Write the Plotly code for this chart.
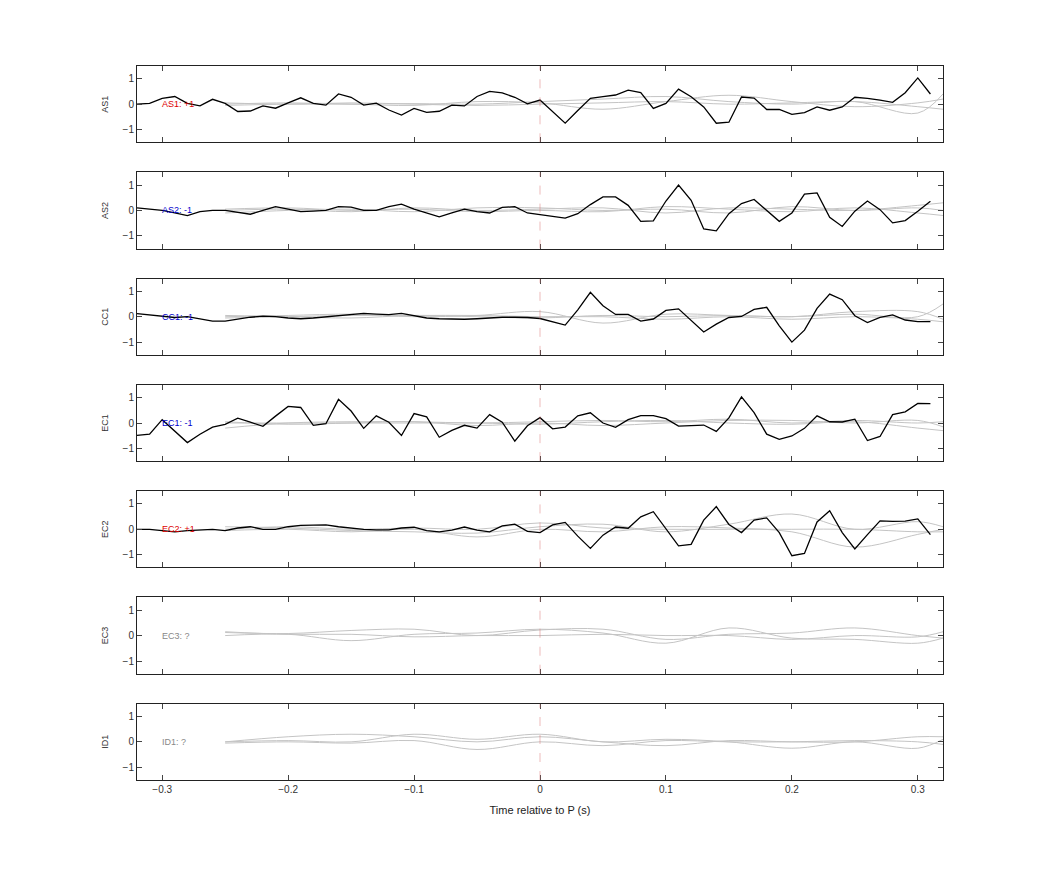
import numpy as np
import plotly.graph_objects as go
from plotly.subplots import make_subplots

stations = ["AS1", "AS2", "CC1", "EC1", "EC2", "EC3", "ID1"]
labels = ["AS1: +1", "AS2: -1", "CC1: -1", "EC1: -1", "EC2: +1", "EC3: ?", "ID1: ?"]
label_colors = ["#dd0000", "#0000cc", "#0000cc", "#0000cc", "#dd0000", "#888888", "#888888"]

t_black = [round(-0.32 + 0.01 * i, 2) for i in range(64)]

as1 = [0, 0.03, 0.23, 0.3, 0.03, -0.07, 0.19, 0.03, -0.29, -0.27, -0.07, -0.16, 0.05, 0.25, 0.03, -0.04,
       0.4, 0.27, -0.04, 0.04, -0.23, -0.43, -0.17, -0.32, -0.28, -0.04, -0.07, 0.3, 0.5, 0.44, 0.27, 0.01,
       0.16, -0.3, -0.75, -0.25, 0.23, 0.3, 0.36, 0.55, 0.45, -0.17, 0.03, 0.59, 0.29, -0.11, -0.75, -0.71,
       0.28, 0.24, -0.21, -0.21, -0.4, -0.33, -0.11, -0.24, -0.11, 0.27, 0.23, 0.16, 0.07, 0.45, 1.03, 0.4]
as2 = [0.1, 0.05, 0.0, -0.1, -0.2, -0.05, 0.0, 0.0, -0.08, -0.15, 0.0, 0.15, 0.05, -0.05, -0.03, 0.0,
       0.15, 0.13, 0.0, 0.0, 0.15, 0.25, 0.05, -0.1, -0.25, -0.1, 0.05, -0.05, -0.1, 0.12, 0.15, -0.1,
       -0.17, -0.23, -0.3, -0.13, 0.23, 0.53, 0.53, 0.2, -0.43, -0.41, 0.37, 1.0, 0.4, -0.73, -0.8, -0.13,
       0.27, 0.43, 0.0, -0.43, -0.1, 0.64, 0.69, -0.27, -0.63, -0.03, 0.37, 0.03, -0.49, -0.4, -0.03, 0.36]
cc1 = [0.12, 0.07, 0.0, -0.03, 0.0, -0.1, -0.17, -0.17, -0.1, -0.02, 0.02, 0.0, -0.05, -0.08, -0.05, 0.0,
       0.03, 0.1, 0.13, 0.1, 0.08, 0.13, 0.05, -0.05, -0.08, -0.1, -0.1, -0.08, -0.05, -0.02, -0.02, -0.03,
       -0.07, -0.2, -0.33, 0.27, 0.96, 0.43, 0.09, 0.09, -0.17, -0.09, 0.25, 0.31, -0.13, -0.6, -0.29, -0.03,
       0.01, 0.29, 0.37, -0.36, -1.0, -0.53, 0.33, 0.89, 0.67, 0.04, -0.23, -0.03, 0.07, -0.13, -0.19, -0.19]
ec1 = [-0.49, -0.44, 0.13, -0.33, -0.77, -0.44, -0.16, -0.05, 0.19, 0.03, -0.13, 0.27, 0.65, 0.61, -0.09, -0.03,
       0.93, 0.47, -0.21, 0.28, 0.03, -0.49, 0.37, 0.24, -0.56, -0.29, -0.09, -0.2, 0.33, 0.03, -0.71, -0.11,
       0.21, -0.23, -0.16, 0.28, 0.4, 0.0, -0.17, 0.13, 0.29, 0.29, 0.17, -0.12, -0.11, -0.08, -0.33, 0.2,
       1.03, 0.41, -0.44, -0.64, -0.51, -0.21, 0.28, 0.05, 0.04, 0.15, -0.69, -0.53, 0.33, 0.44, 0.77, 0.76]
ec2 = [0.0, 0.0, -0.05, -0.1, -0.05, -0.02, 0.0, -0.05, 0.05, 0.1, 0.0, 0.0, 0.1, 0.15, 0.17, 0.17,
       0.1, 0.05, 0.0, -0.02, -0.02, 0.05, 0.08, -0.05, -0.1, -0.03, 0.09, -0.03, -0.1, 0.13, 0.2, -0.08,
       -0.13, 0.17, 0.27, -0.27, -0.75, -0.23, 0.09, 0.04, 0.49, 0.69, 0.03, -0.65, -0.59, 0.36, 0.89, 0.19,
       -0.13, 0.36, 0.45, -0.13, -1.04, -0.95, 0.29, 0.73, -0.13, -0.77, -0.21, 0.33, 0.31, 0.32, 0.41, -0.21]
black_series = [as1, as2, cc1, ec1, ec2, None, None]

t_gray = [-0.25, -0.20, -0.15, -0.10, -0.05, 0.00, 0.05, 0.10, 0.15, 0.20, 0.25, 0.30, 0.32]
gray_series = [
    [[0.0, 0.05, 0.0, -0.05, 0.1, 0.05, -0.2, 0.1, 0.35, 0.1, -0.1, 0.05, 0.2],
     [0.05, 0.0, 0.05, 0.0, -0.05, 0.0, 0.05, 0.1, 0.0, 0.05, 0.1, -0.1, -0.2],
     [-0.05, 0.0, 0.0, 0.02, 0.0, 0.1, 0.2, 0.3, 0.1, 0.0, 0.1, -0.35, 0.4]],
    [[0.0, 0.05, -0.05, 0.1, 0.0, 0.05, 0.1, -0.1, 0.1, 0.05, 0.0, 0.2, 0.3],
     [-0.1, 0.0, 0.05, -0.05, 0.1, 0.1, 0.0, 0.05, -0.1, 0.15, 0.0, 0.1, 0.0],
     [0.05, 0.1, 0.0, 0.05, -0.05, 0.0, -0.05, 0.15, 0.05, -0.05, 0.1, -0.1, -0.2]],
    [[0.0, 0.05, 0.1, 0.0, 0.05, 0.2, -0.25, 0.1, 0.05, 0.0, 0.1, 0.0, 0.5],
     [0.05, 0.0, -0.05, 0.05, 0.0, -0.05, 0.05, 0.0, 0.05, 0.0, 0.2, 0.2, -0.1],
     [-0.05, 0.0, 0.05, 0.05, 0.05, 0.0, 0.0, -0.1, 0.0, -0.1, 0.0, -0.1, -0.2]],
    [[-0.2, 0.0, 0.05, 0.05, 0.0, 0.05, 0.1, 0.05, 0.15, 0.0, 0.1, 0.0, 0.05],
     [0.0, 0.0, 0.0, 0.0, 0.0, -0.05, 0.05, 0.1, 0.0, -0.05, 0.05, -0.2, -0.3],
     [0.05, -0.05, 0.0, 0.05, -0.1, 0.0, -0.1, 0.0, 0.1, 0.1, 0.0, 0.1, -0.15]],
    [[0.1, 0.05, -0.05, -0.1, -0.15, 0.1, 0.2, -0.1, 0.2, 0.6, 0.0, 0.3, 0.1],
     [0.0, 0.1, 0.0, 0.05, 0.0, 0.25, 0.05, 0.0, 0.0, 0.0, 0.0, -0.1, -0.1],
     [-0.05, 0.0, -0.1, 0.0, -0.3, 0.0, -0.1, 0.1, 0.05, -0.1, -0.7, -0.2, 0.0]],
    [[0.12, 0.08, 0.2, 0.25, 0.0, 0.22, 0.25, -0.15, 0.05, 0.1, 0.3, 0.0, -0.1],
     [0.0, 0.05, -0.2, 0.05, 0.1, 0.25, 0.1, -0.3, 0.3, -0.1, -0.15, -0.3, -0.1],
     [0.15, 0.05, 0.05, -0.05, 0.0, 0.0, 0.05, 0.0, 0.0, -0.15, 0.0, -0.05, 0.15]],
    [[0.0, 0.2, 0.3, 0.2, 0.0, 0.2, 0.0, -0.15, 0.05, 0.0, 0.0, 0.2, 0.2],
     [0.0, 0.05, 0.0, 0.3, 0.1, 0.3, 0.0, 0.1, 0.0, -0.25, 0.0, -0.25, 0.1],
     [-0.05, 0.0, -0.05, 0.05, -0.3, 0.0, -0.15, 0.05, 0.0, 0.0, 0.05, 0.0, -0.1]],
]

fig = make_subplots(rows=7, cols=1, shared_xaxes=False, vertical_spacing=0.042)
for i, st in enumerate(stations):
    r = i + 1
    for g in gray_series[i]:
        fig.add_trace(go.Scatter(x=t_gray, y=g, mode="lines", line=dict(color="#c4c4c4", width=1, shape="spline"),
                                 showlegend=False, hoverinfo="skip"), row=r, col=1)
    if black_series[i] is not None:
        fig.add_trace(go.Scatter(x=t_black, y=black_series[i], mode="lines", line=dict(color="black", width=1.3),
                                 showlegend=False), row=r, col=1)
    fig.add_shape(type="line", x0=0, x1=0, y0=-1.5, y1=1.5,
                  line=dict(color="rgba(215,110,110,0.6)", width=0.8, dash="dash"), row=r, col=1)
    fig.add_annotation(x=-0.302, y=0, text=labels[i], showarrow=False, xanchor="left",
                       font=dict(size=9, color=label_colors[i]), row=r, col=1)
    fig.update_yaxes(range=[-1.5, 1.5], tickvals=[-1, 0, 1], ticks="inside", ticklen=5, mirror="ticks",
                     showline=True, linecolor="#222", linewidth=1, showgrid=False, zeroline=False,
                     title=dict(text=st, font=dict(size=9, color="#333"), standoff=12),
                     tickfont=dict(size=10, color="#333"), row=r, col=1)
    fig.update_xaxes(range=[-0.32, 0.32], tickvals=[-0.3, -0.2, -0.1, 0, 0.1, 0.2, 0.3], ticks="inside", ticklen=5,
                     mirror="ticks", showline=True, linecolor="#222", linewidth=1, showgrid=False, zeroline=False,
                     showticklabels=(r == 7), tickfont=dict(size=10, color="#333"), row=r, col=1)

fig.update_xaxes(title=dict(text="Time relative to P (s)", font=dict(size=11, color="#222"), standoff=12), row=7, col=1)
fig.update_layout(width=1042, height=875, margin=dict(l=129, r=107, t=58, b=103),
                  plot_bgcolor="white", paper_bgcolor="white",
                  font=dict(family="Liberation Sans, Arial, sans-serif", color="#333"))
fig.write_html("out.html")
